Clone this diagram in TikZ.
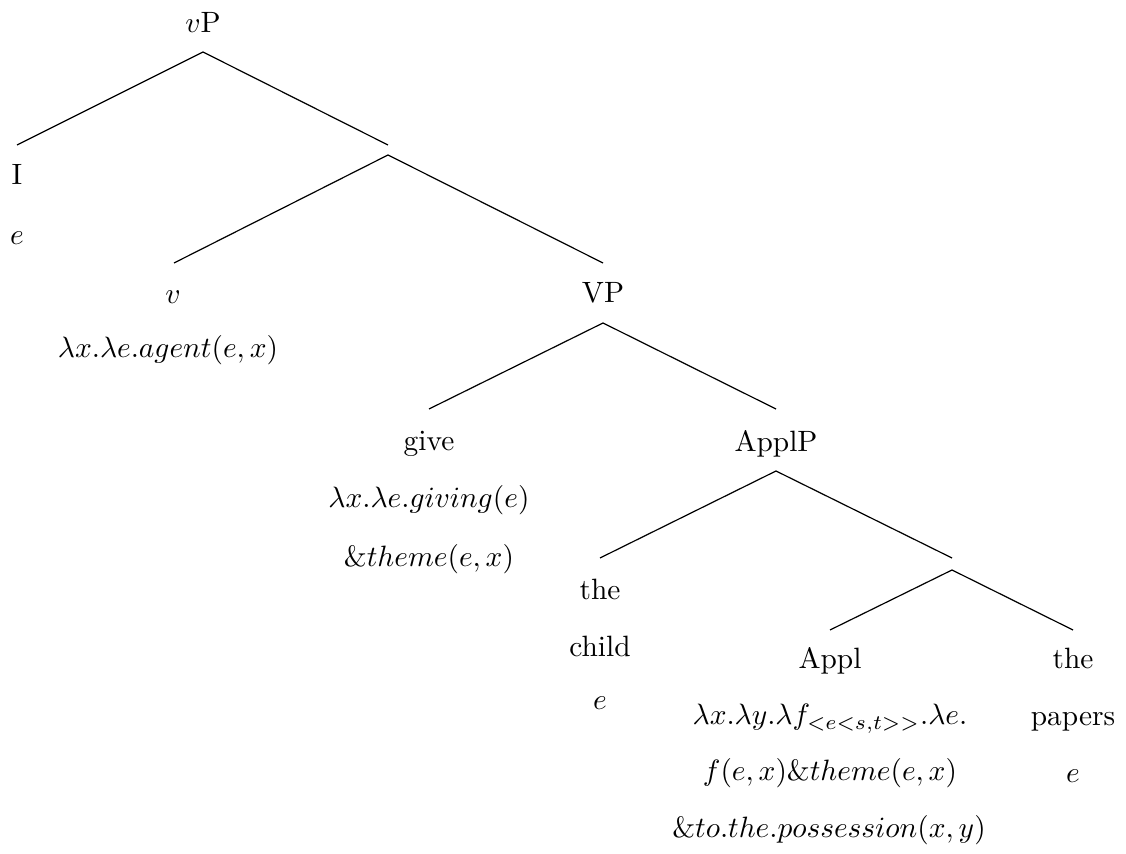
\documentclass[tikz,border=0pt]{standalone}
\newcommand{\tlab}[1]{\scalebox{1.47}{#1}}
\begin{document}
\begin{tikzpicture}[x=0.5pt,y=-0.5pt,
  lbl/.style={anchor=base,inner sep=0pt,font=\fontsize{10}{12}\selectfont},
  branch/.style={line width=0.6pt,black}]
\useasboundingbox (0,0) rectangle (1126,854);
% labels
\node[lbl] (vP) at (203,33) {\tlab{$v$P}};
\node[lbl] (I) at (17,185) {\tlab{I}};
\node[lbl] (Ie) at (17,245) {\tlab{$e$}};
\node[lbl] (v) at (173,304) {\tlab{$v$}};
\node[lbl] (vsem) at (168,358) {\tlab{$\lambda x.\lambda e.agent(e,x)$}};
\node[lbl] (VP) at (603,303) {\tlab{VP}};
\node[lbl] (give) at (429,451) {\tlab{give}};
\node[lbl] (give2) at (429,508) {\tlab{$\lambda x.\lambda e.giving(e)$}};
\node[lbl] (give3) at (429,567) {\tlab{$\&theme(e,x)$}};
\node[lbl] (ApplP) at (776,452) {\tlab{ApplP}};
\node[lbl] (the1) at (600,600) {\tlab{the}};
\node[lbl] (child) at (600,657) {\tlab{child}};
\node[lbl] (childe) at (600,710) {\tlab{$e$}};
\node[lbl] (Appl) at (830,669) {\tlab{Appl}};
\node[lbl] (Appl2) at (830,725) {\tlab{$\lambda x.\lambda y.\lambda f_{<e<s,t>>}.\lambda e.$}};
\node[lbl] (Appl3) at (830,781) {\tlab{$f(e,x)\&theme(e,x)$}};
\node[lbl] (Appl4) at (829,838) {\tlab{$\&to.the.possession(x,y)$}};
\node[lbl] (the2) at (1073,669) {\tlab{the}};
\node[lbl] (papers) at (1073,726) {\tlab{papers}};
\node[lbl] (paperse) at (1073,783) {\tlab{$e$}};
% branch points
\coordinate (vP-b) at (203,52);
\coordinate (I-t) at (17,145);
\coordinate (X-t) at (388,145);
\coordinate (X-b) at (388,155);
\coordinate (v-t) at (174,263);
\coordinate (VP-t) at (603,263);
\coordinate (VP-b) at (603,323);
\coordinate (give-t) at (429,409);
\coordinate (ApplP-t) at (776,409);
\coordinate (ApplP-b) at (776,471);
\coordinate (child-t) at (600,558);
\coordinate (Y-t) at (952,558);
\coordinate (Y-b) at (952,570);
\coordinate (Appl-t) at (830,630);
\coordinate (papers-t) at (1073,630);
% branches
\draw[branch] (I-t) -- (vP-b) -- (X-t);
\draw[branch] (v-t) -- (X-b) -- (VP-t);
\draw[branch] (give-t) -- (VP-b) -- (ApplP-t);
\draw[branch] (child-t) -- (ApplP-b) -- (Y-t);
\draw[branch] (Appl-t) -- (Y-b) -- (papers-t);
\end{tikzpicture}
\end{document}
